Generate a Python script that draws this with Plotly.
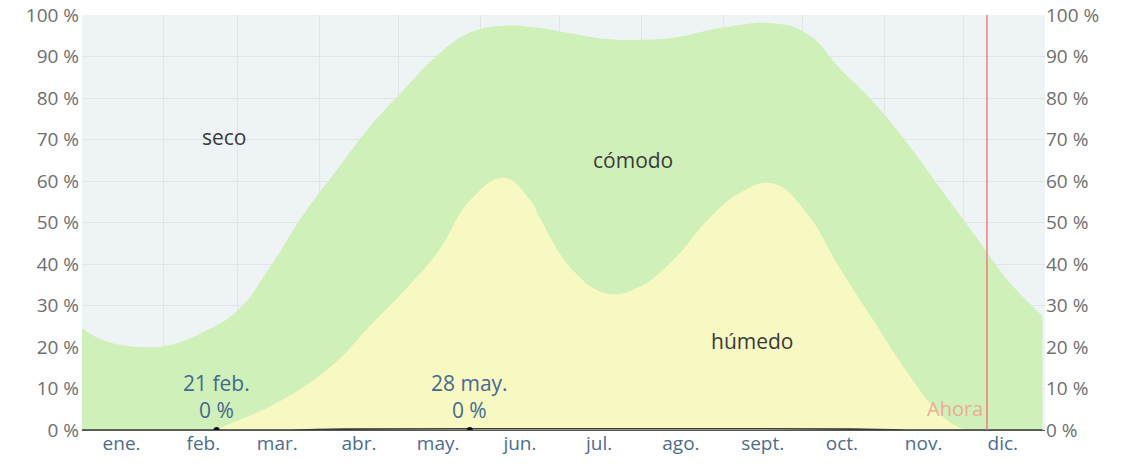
import plotly.graph_objects as go

# meses en el eje
meses = ["ene.", "feb.", "mar.", "abr.", "may.", "jun.",
         "jul.", "ago.", "sept.", "oct.", "nov.", "dic."]
mitad_mes = ["2023-%02d-16" % m for m in range(1, 13)]
inicio_mes = ["2023-%02d-01" % m for m in range(1, 13)]

# limite superior de la banda "cómodo" (húmedo + cómodo acumulado, %)
fechas_sup = ["2023-01-01", "2023-01-09", "2023-01-22", "2023-02-03", "2023-02-16",
              "2023-03-01", "2023-03-13", "2023-03-26", "2023-04-08", "2023-04-20",
              "2023-05-03", "2023-05-16", "2023-05-28", "2023-06-10", "2023-06-24",
              "2023-07-06", "2023-07-19", "2023-07-31", "2023-08-13", "2023-09-01",
              "2023-09-20", "2023-10-03", "2023-10-15", "2023-10-28", "2023-11-10",
              "2023-11-22", "2023-12-05", "2023-12-18", "2023-12-31"]
comodo_sup = [24.5, 21.6, 20.0, 20.4, 23.6,
              28.8, 39.0, 52.0, 63.0, 73.0,
              82.0, 90.5, 95.7, 97.4, 96.8,
              95.5, 94.2, 94.0, 94.5, 97.0,
              98.0, 95.4, 87.3, 79.0, 69.0,
              58.5, 47.3, 36.0, 27.5]

# banda "húmedo" (%)
fechas_hum = ["2023-01-01", "2023-02-20", "2023-02-26", "2023-03-13", "2023-03-26",
              "2023-04-08", "2023-04-20", "2023-05-03", "2023-05-16", "2023-05-28",
              "2023-06-10", "2023-06-20", "2023-06-24", "2023-07-06", "2023-07-19",
              "2023-07-31", "2023-08-13", "2023-08-26", "2023-09-07", "2023-09-20",
              "2023-10-03", "2023-10-15", "2023-10-28", "2023-11-10", "2023-11-22",
              "2023-11-30", "2023-12-05", "2023-12-31"]
humedo = [0, 0, 1.5, 5.6, 10.4,
          16.8, 25.0, 33.5, 43.0, 55.3,
          60.8, 55.3, 50.5, 38.5, 32.9,
          34.4, 40.9, 50.5, 57.0, 59.4,
          52.0, 39.2, 26.4, 13.7, 4.0,
          0.5, 0, 0]

# banda "bochornoso" (casi cero)
fechas_boch = ["2023-01-01", "2023-03-20", "2023-04-10", "2023-06-15",
               "2023-09-15", "2023-10-20", "2023-11-10", "2023-12-31"]
bochorno = [0, 0, 0.2, 0.3, 0.3, 0.2, 0, 0]

# puntos marcados
fechas_pts = ["2023-02-21", "2023-05-28"]
valores_pts = [0, 0]
etiquetas_pts = ["21 feb.", "28 may."]

ahora = "2023-12-10"

fig = go.Figure()
fig.add_trace(go.Scatter(x=fechas_sup, y=comodo_sup, fill="tozeroy",
                         fillcolor="#cff0b8",
                         line=dict(width=0, shape="spline", smoothing=1.2),
                         mode="lines", hoverinfo="skip"))
fig.add_trace(go.Scatter(x=fechas_hum, y=humedo, fill="tozeroy",
                         fillcolor="#f8f9c2",
                         line=dict(width=0, shape="spline", smoothing=1.2),
                         mode="lines", hoverinfo="skip"))
fig.add_trace(go.Scatter(x=fechas_boch, y=bochorno, mode="lines",
                         line=dict(color="#3a3a3a", width=1.6, shape="spline"),
                         hoverinfo="skip"))
fig.add_trace(go.Scatter(x=fechas_pts, y=valores_pts, mode="markers",
                         marker=dict(color="#111", size=6), hoverinfo="skip"))
# eje derecho
fig.add_trace(go.Scatter(x=[fechas_sup[0]], y=[0], yaxis="y2", mode="markers",
                         marker=dict(opacity=0), hoverinfo="skip"))

for f, v, e in zip(fechas_pts, valores_pts, etiquetas_pts):
    fig.add_annotation(x=f, y=v, text=e + "<br>%d %%" % v, showarrow=False,
                       yanchor="bottom", yshift=4,
                       font=dict(color="#46698f", size=21))

fig.add_shape(type="line", x0=ahora, x1=ahora, xref="x", y0=0, y1=1, yref="paper",
              line=dict(color="#e88080", width=1.5))
fig.add_annotation(x=ahora, y=5.3, text="Ahora", showarrow=False, xanchor="right",
                   xshift=-2, font=dict(color="#eeab98", size=20))

fig.add_annotation(x="2023-02-24", y=70.5, text="seco", showarrow=False,
                   font=dict(color="#3a3a3a", size=21))
fig.add_annotation(x="2023-07-29", y=65, text="cómodo", showarrow=False,
                   font=dict(color="#3a3a3a", size=21))
fig.add_annotation(x="2023-09-12", y=21.5, text="húmedo", showarrow=False,
                   font=dict(color="#3a3a3a", size=21))

ticks_y = list(range(0, 101, 10))
texto_y = ["%d %%" % t for t in ticks_y]

fig.update_layout(
    width=1122, height=467,
    margin=dict(l=82, r=77, t=15, b=37),
    paper_bgcolor="white", plot_bgcolor="#eef3f6",
    showlegend=False,
    font=dict(family="Open Sans", size=19, color="#6f6f6f"),
    xaxis=dict(type="date", range=["2023-01-01", "2024-01-01"],
               tickmode="array", tickvals=mitad_mes, ticktext=meses,
               tickfont=dict(color="#4d6d8f", size=19),
               showgrid=False, ticks="", zeroline=False, automargin=False,
               ticklabelstandoff=-4,
               showline=True, linecolor="#555", linewidth=1,
               minor=dict(tickmode="array", tickvals=inicio_mes,
                          showgrid=True, gridcolor="#e0e6e8", gridwidth=1)),
    yaxis=dict(range=[0, 100], tickmode="array", tickvals=ticks_y, ticktext=texto_y,
               showgrid=True, gridcolor="#e0e6e8", zeroline=False, ticks="",
               automargin=False, ticklabelstandoff=2, ticklabeloverflow="allow"),
    yaxis2=dict(range=[0, 100], tickmode="array", tickvals=ticks_y, ticktext=texto_y,
                overlaying="y", side="right", showgrid=False, zeroline=False,
                ticks="", automargin=False, ticklabeloverflow="allow"),
)

# sin el margen por defecto de la página
fig.write_html("out.html", config={"displayModeBar": False},
               post_script="document.body.style.margin = '0';")
